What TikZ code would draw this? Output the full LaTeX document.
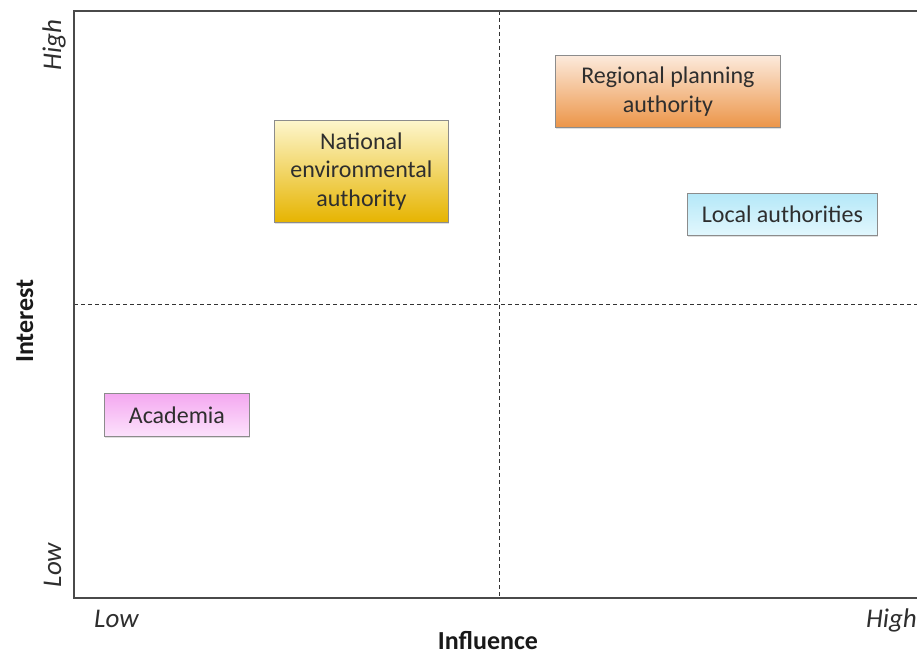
\documentclass[tikz,border=0pt]{standalone}
\usepackage{fontspec}
\setmainfont{Carlito}
\usetikzlibrary{shadows}
\definecolor{natTop}{HTML}{FDF6CC}
\definecolor{natBot}{HTML}{E6B400}
\definecolor{regTop}{HTML}{FCEADC}
\definecolor{regBot}{HTML}{EC9548}
\definecolor{locTop}{HTML}{B5E8F8}
\definecolor{locBot}{HTML}{E2F7FD}
\definecolor{acaTop}{HTML}{F4A8F0}
\definecolor{acaBot}{HTML}{FCE2FC}
\definecolor{frameC}{HTML}{4A4A4A}
\definecolor{txtC}{HTML}{2E2E2E}
\begin{document}
\begin{tikzpicture}[x=1pt,y=-1pt,
  stake/.style={draw=black!45, line width=0.8pt, align=center, font=\fontsize{24}{28.5}\selectfont,
    text=txtC, inner sep=0pt, anchor=north west,
    drop shadow={shadow xshift=1pt, shadow yshift=-2pt, opacity=0.25}},
  frame/.style={draw=frameC, line width=1.4pt},
  quad/.style={draw=black!80, line width=0.9pt, dash pattern=on 4pt off 3pt},
  lvl/.style={font=\fontsize{27}{32}\selectfont\itshape, text=txtC, inner sep=0pt},
  axlab/.style={font=\fontsize{26}{31}\selectfont\bfseries, text=black!90, inner sep=0pt}]
\useasboundingbox (0,0) rectangle (917,655);
% quadrant dividers
\coordinate (vt) at (499,11);
\coordinate (vb) at (499,598);
\coordinate (hl) at (74,304);
\coordinate (hr) at (917,304);
\draw[quad] (vt) -- (vb);
\draw[quad] (hl) -- (hr);
% frame
\coordinate (tr) at (918,11);
\coordinate (tl) at (74,11);
\coordinate (bl) at (74,598);
\coordinate (br) at (918,598);
\draw[frame] (tr) -- (tl) -- (bl) -- (br);
% stakeholders
\node[stake, top color=natTop, bottom color=natBot, minimum width=174pt, minimum height=102pt, text depth=4pt]
  (nat) at (274,120) {National\\environmental\\authority};
\node[stake, top color=regTop, bottom color=regBot, minimum width=225pt, minimum height=72pt]
  (reg) at (555,55) {Regional planning\\authority};
\node[stake, top color=locTop, bottom color=locBot, minimum width=190pt, minimum height=42pt]
  (loc) at (687,193) {Local authorities};
\node[stake, top color=acaTop, bottom color=acaBot, minimum width=145pt, minimum height=43pt]
  (aca) at (104,393) {Academia};
% axis level labels
\node[lvl, anchor=base west] (lowx) at (94,627) {Low};
\node[lvl, anchor=base east] (highx) at (917,627) {High};
\node[lvl, rotate=90, anchor=base] (highy) at (61,45) {High};
\node[lvl, rotate=90, anchor=base] (lowy) at (61,565) {Low};
% axis titles
\node[axlab, anchor=base] (infl) at (488,649) {Influence};
\node[axlab, rotate=90, anchor=base] (intr) at (33,321) {Interest};
\end{tikzpicture}
\end{document}
